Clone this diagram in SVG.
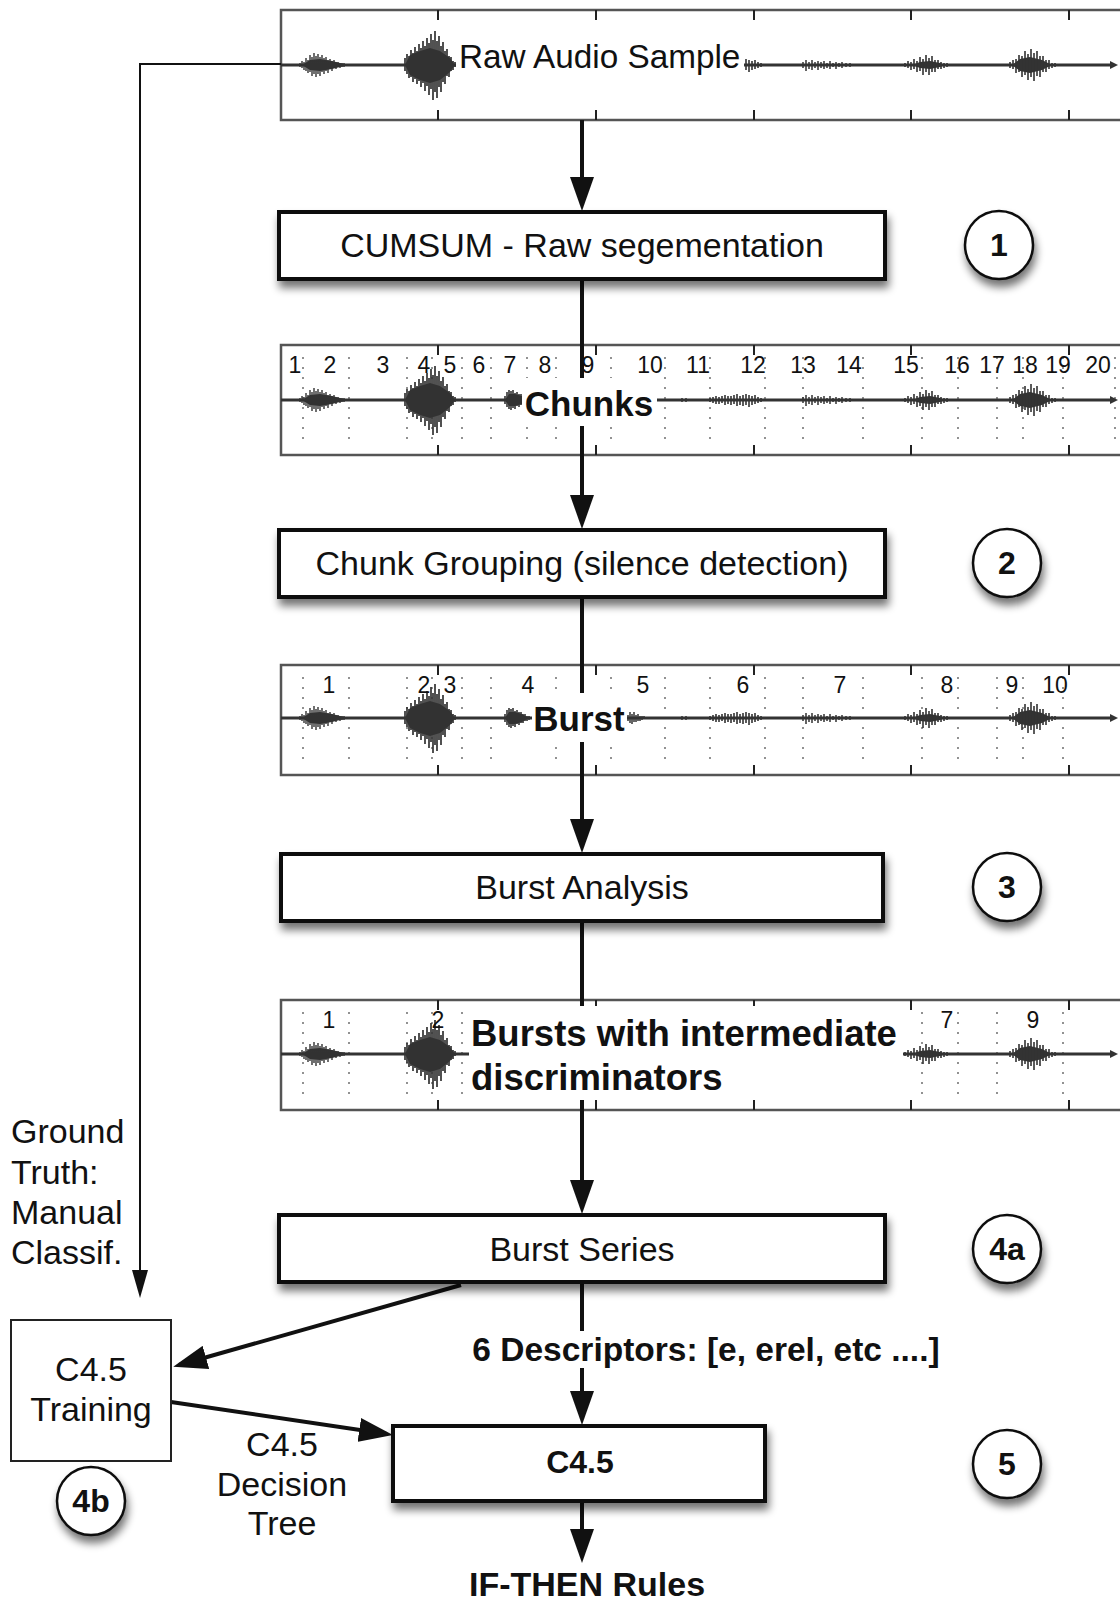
<svg xmlns="http://www.w3.org/2000/svg" width="1120" height="1602" viewBox="0 0 1120 1602">
<style>
text{font-family:"Liberation Sans",Arial,Helvetica,sans-serif;fill:#111}
.box{fill:#fff;stroke:#111;stroke-width:4}
.circ{fill:#fff;stroke:#111;stroke-width:2.5}
.cnum{font-size:32px;font-weight:bold;text-anchor:middle}
.btxt{font-size:34px;text-anchor:middle}
.panel{fill:#fff;stroke:#555;stroke-width:2.5}
.tick{stroke:#222;stroke-width:2}
.dot{stroke:#777;stroke-width:1.6;stroke-dasharray:2 8}
.num{font-size:23px;text-anchor:middle;fill:#222}
.lbl{font-size:35px;font-weight:bold;text-anchor:middle}
.wv{stroke:#333;fill:none}
.core{fill:#333}
.main{stroke:#111;stroke-width:4;fill:none}
.thin{stroke:#111;stroke-width:2;fill:none}
.wht{fill:#fff}
</style>
<defs>
<filter id="sh" x="-15%" y="-30%" width="135%" height="180%">
<feGaussianBlur in="SourceAlpha" stdDeviation="4"/>
<feOffset dx="2" dy="7" result="b"/>
<feComponentTransfer><feFuncA type="linear" slope="0.55"/></feComponentTransfer>
<feMerge><feMergeNode/><feMergeNode in="SourceGraphic"/></feMerge>
</filter>
<marker id="ah" viewBox="0 0 34 24" refX="28" refY="12" markerWidth="34" markerHeight="24" markerUnits="userSpaceOnUse" orient="auto">
<path d="M0,0 L34,12 L0,24 z" fill="#111"/>
</marker>
<marker id="ahs" viewBox="0 0 28 16" refX="24" refY="8" markerWidth="28" markerHeight="16" markerUnits="userSpaceOnUse" orient="auto">
<path d="M0,0 L28,8 L0,16 z" fill="#111"/>
</marker>
<g id="wave">
<path class="wv" stroke-width="2.8" d="M281,0H1113"/>
<polygon class="core" points="302,0 310,-5 320,-6 332,-4 344,-1 348,0 344,1 332,4 320,6 310,5"/>
<path class="wv" stroke-width="1.4" d="M300,-2V2M302,-4V3M304,-3V5M306,-7V6M308,-5V8M310,-10V7M312,-8V11M314,-12V9M316,-9V12M318,-11V9M320,-8V11M322,-10V7M324,-7V9M326,-8V6M328,-5V8M330,-6V4M332,-4V6M334,-5V3M336,-3V4M338,-3V2M340,-2V3M342,-2V2M344,-2V2M346,-1V1"/>
<polygon class="core" points="405,0 410,-10 420,-14 430,-17 440,-14 450,-7 455,0 450,7 440,15 430,18 420,15 410,10"/>
<path class="wv" stroke-width="1.7" d="M405,-7V6M407,-11V9M409,-9V13M411,-15V12M413,-12V17M415,-18V14M417,-14V19M419,-21V16M421,-17V22M423,-24V18M425,-19V26M427,-27V21M429,-22V30M431,-31V24M433,-25V35M435,-34V27M437,-24V33M439,-29V22M441,-19V27M443,-23V17M445,-14V19M447,-16V11M449,-9V12M451,-8V6M453,-4V5M455,-3V2"/>
<polygon class="core" points="505,0 509,-6 515,-6 522,-4 529,0 522,4 515,6 509,6"/>
<path class="wv" stroke-width="1.6" d="M505,-4V4M507,-8V7M509,-10V9M511,-9V10M513,-10V8M515,-7V9M517,-8V6M519,-6V7M521,-6V5M523,-4V5M525,-4V3M527,-2V3M529,-2V2"/>
<path class="wv" stroke-width="1.5" d="M628,-3V3M630,-6V5M632,-4V6M634,-6V4M636,-3V4M638,-4V3M640,-2V3M642,-2V2M644,-2V1M682,-2V2M686,-2V2"/>
<path class="wv" stroke-width="1.6" d="M710,-2V2M713,-3V3M716,-4V4M719,-3V4M722,-4V3M725,-5V5M728,-4V4M731,-4V5M734,-5V4M737,-6V6M740,-4V5M743,-5V6M746,-6V5M749,-5V7M752,-4V5M755,-5V4M758,-3V3M761,-2V2"/>
<path class="wv" stroke-width="1.5" d="M803,-3V3M806,-5V6M809,-3V4M812,-5V5M815,-3V3M818,-4V5M821,-3V3M824,-4V4M827,-2V3M830,-4V4M833,-2V2M836,-3V4M839,-2V2M842,-3V3M846,-2V2M850,-2V2"/>
<polygon class="core" points="912,0 920,-3 930,-4 940,-2 946,0 940,2 930,4 920,3"/>
<path class="wv" stroke-width="1.6" d="M905,-2V2M908,-4V3M911,-3V5M914,-6V4M917,-4V7M920,-8V6M923,-6V10M926,-10V7M929,-7V10M932,-9V7M935,-5V7M938,-5V4M941,-3V4M944,-2V3M947,-2V2"/>
<polygon class="core" points="1012,0 1020,-6 1030,-8 1042,-5 1052,0 1042,5 1030,8 1020,6"/>
<path class="wv" stroke-width="1.6" d="M1010,-3V3M1013,-5V4M1016,-6V8M1019,-10V7M1022,-9V12M1025,-14V10M1028,-11V15M1031,-16V12M1034,-12V16M1037,-14V11M1040,-9V12M1043,-9V7M1046,-5V7M1049,-5V4M1052,-2V3M1055,-2V2"/>
<path d="M1110,-4L1118,0L1110,4z" fill="#333"/>
</g>
<g id="ticks">
<path class="tick" d="M438,0v10M596,0v10M754,0v10M911,0v10M1069,0v10M438,110v-10M596,110v-10M754,110v-10M911,110v-10M1069,110v-10"/>
</g>
</defs>

<g id="panel-raw">
<rect class="panel" x="281" y="10" width="860" height="110"/>
<use href="#ticks" transform="translate(0,10)"/>
<use href="#wave" transform="translate(0,65)"/>
</g>

<g id="panel-chunks">
<rect class="panel" x="281" y="345" width="860" height="110"/>
<use href="#ticks" transform="translate(0,345)"/>
<path class="dot" d="M303,357V447M349,357V447M407,357V447M432,357V447M462,357V447M491,357V447M527,357V447M556,357V447M611,357V447M665,357V447M710,357V447M765,357V447M803,357V447M863,357V447M922,357V447M958,357V447M997,357V447M1023,357V447M1063,357V447M1115,357V447"/>
<use href="#wave" transform="translate(0,400)"/>
<g class="num">
<text x="295" y="373">1</text><text x="330" y="373">2</text><text x="383" y="373">3</text><text x="424" y="373">4</text><text x="450" y="373">5</text><text x="479" y="373">6</text><text x="510" y="373">7</text><text x="545" y="373">8</text><text x="588" y="373">9</text><text x="650" y="373">10</text><text x="698" y="373">11</text><text x="753" y="373">12</text><text x="803" y="373">13</text><text x="849" y="373">14</text><text x="906" y="373">15</text><text x="957" y="373">16</text><text x="992" y="373">17</text><text x="1025" y="373">18</text><text x="1058" y="373">19</text><text x="1098" y="373">20</text>
</g>
</g>

<g id="panel-burst">
<rect class="panel" x="281" y="665" width="860" height="110"/>
<use href="#ticks" transform="translate(0,665)"/>
<path class="dot" d="M303,677V767M349,677V767M407,677V767M432,677V767M462,677V767M491,677V767M556,677V767M611,677V767M665,677V767M710,677V767M765,677V767M803,677V767M863,677V767M922,677V767M958,677V767M997,677V767M1023,677V767M1063,677V767"/>
<use href="#wave" transform="translate(0,718)"/>
<g class="num">
<text x="329" y="693">1</text><text x="424" y="693">2</text><text x="450" y="693">3</text><text x="528" y="693">4</text><text x="643" y="693">5</text><text x="743" y="693">6</text><text x="840" y="693">7</text><text x="947" y="693">8</text><text x="1012" y="693">9</text><text x="1055" y="693">10</text>
</g>
</g>

<g id="panel-discr">
<rect class="panel" x="281" y="1000" width="860" height="110"/>
<use href="#ticks" transform="translate(0,1000)"/>
<path class="dot" d="M303,1012V1102M349,1012V1102M407,1012V1102M432,1012V1102M462,1012V1102M922,1012V1102M958,1012V1102M997,1012V1102M1063,1012V1102"/>
<use href="#wave" transform="translate(0,1054)"/>
<g class="num">
<text x="329" y="1028">1</text><text x="438" y="1028">2</text><text x="947" y="1028">7</text><text x="1033" y="1028">9</text>
</g>
</g>

<g id="connectors">
<path class="main" marker-end="url(#ah)" d="M582,120V205"/>
<path class="main" marker-end="url(#ah)" d="M582,279V523"/>
<path class="main" marker-end="url(#ah)" d="M582,598V847"/>
<path class="main" marker-end="url(#ah)" d="M582,922V1208"/>
<path class="main" marker-end="url(#ah)" d="M582,1283V1419"/>
<path class="main" marker-end="url(#ah)" d="M582,1502V1557"/>
<path class="thin" marker-end="url(#ahs)" d="M281,64H140V1294"/>
<path class="main" marker-end="url(#ah)" d="M461,1285L179,1365"/>
<path class="main" marker-end="url(#ah)" d="M171,1402L387,1434"/>
</g>

<g id="label-raw">
<rect class="wht" x="456" y="38" width="288" height="50"/>
<text x="459" y="68" font-size="33.3">Raw Audio Sample</text>
</g>
<g id="label-chunks">
<rect class="wht" x="522" y="378" width="135" height="48"/>
<text class="lbl" x="589" y="416">Chunks</text>
</g>
<g id="label-burst">
<rect class="wht" x="532" y="693" width="95" height="49"/>
<text class="lbl" x="579" y="731">Burst</text>
</g>
<g id="label-discr">
<rect class="wht" x="469" y="1006" width="434" height="94"/>
<text x="471" y="1046" font-size="36.5" font-weight="bold">Bursts with intermediate</text>
<text x="471" y="1090" font-size="36.5" font-weight="bold">discriminators</text>
</g>
<g id="label-descriptors">
<rect class="wht" x="466" y="1331" width="480" height="37"/>
<text x="706" y="1361" font-size="33.5" font-weight="bold" text-anchor="middle">6 Descriptors: [e, erel, etc ....]</text>
</g>

<g id="node-cumsum">
<rect class="box" x="279" y="212" width="606" height="67" filter="url(#sh)"/>
<text class="btxt" x="582" y="257">CUMSUM - Raw segementation</text>
</g>
<g id="node-grouping">
<rect class="box" x="279" y="530" width="606" height="67" filter="url(#sh)"/>
<text class="btxt" x="582" y="575">Chunk Grouping (silence detection)</text>
</g>
<g id="node-analysis">
<rect class="box" x="281" y="854" width="602" height="67" filter="url(#sh)"/>
<text class="btxt" x="582" y="899">Burst Analysis</text>
</g>
<g id="node-series">
<rect class="box" x="279" y="1215" width="606" height="67" filter="url(#sh)"/>
<text class="btxt" x="582" y="1261">Burst Series</text>
</g>
<g id="node-c45">
<rect class="box" x="393" y="1426" width="372" height="75" filter="url(#sh)"/>
<text x="580" y="1473" font-size="32" font-weight="bold" text-anchor="middle">C4.5</text>
</g>
<g id="node-training">
<rect x="11" y="1320" width="160" height="141" fill="#fff" stroke="#222" stroke-width="2"/>
<text class="btxt" x="91" y="1381">C4.5</text>
<text class="btxt" x="91" y="1421">Training</text>
</g>

<g id="step-1"><circle class="circ" cx="999" cy="245" r="34" filter="url(#sh)"/><text class="cnum" x="999" y="256">1</text></g>
<g id="step-2"><circle class="circ" cx="1007" cy="563" r="34" filter="url(#sh)"/><text class="cnum" x="1007" y="574">2</text></g>
<g id="step-3"><circle class="circ" cx="1007" cy="887" r="34" filter="url(#sh)"/><text class="cnum" x="1007" y="898">3</text></g>
<g id="step-4a"><circle class="circ" cx="1007" cy="1249" r="34" filter="url(#sh)"/><text class="cnum" x="1007" y="1260">4a</text></g>
<g id="step-5"><circle class="circ" cx="1007" cy="1464" r="34" filter="url(#sh)"/><text class="cnum" x="1007" y="1475">5</text></g>
<g id="step-4b"><circle class="circ" cx="91" cy="1501" r="34" filter="url(#sh)"/><text class="cnum" x="91" y="1512">4b</text></g>

<g id="label-ground">
<text x="11" y="1143" font-size="34">Ground</text>
<text x="11" y="1184" font-size="34">Truth:</text>
<text x="11" y="1224" font-size="34">Manual</text>
<text x="11" y="1264" font-size="34">Classif.</text>
</g>
<g id="label-tree">
<text class="btxt" x="282" y="1456">C4.5</text>
<text class="btxt" x="282" y="1496">Decision</text>
<text class="btxt" x="282" y="1535">Tree</text>
</g>
<g id="label-rules">
<text x="587" y="1596" font-size="34" font-weight="bold" text-anchor="middle">IF-THEN Rules</text>
</g>
</svg>
